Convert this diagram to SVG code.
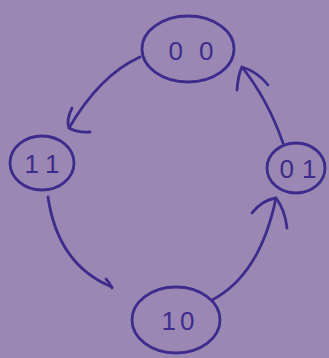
<svg xmlns="http://www.w3.org/2000/svg" width="329" height="358" viewBox="0 0 329 358">
<style>
.n{fill:none;stroke:#3d2c8c;stroke-width:2.8}
.c{fill:none;stroke:#3d2c8c;stroke-width:2.8;stroke-linecap:round;stroke-linejoin:round}
.t{font-family:"Liberation Sans",Arial,sans-serif;font-size:26px;fill:#3d2c8c;text-anchor:middle;letter-spacing:6px}
</style>
<rect width="329" height="358" fill="#9b87b3"/>
<g id="connectors">
<path class="c" d="M140,57 Q100,75 69,128"/>
<path class="c" d="M72,108 Q66,120 69,128 Q78,133 90,132"/>
<path class="c" d="M48,197 Q58,265 112,287"/>
<path class="c" d="M106,279 Q110,283 112,288"/>
<path class="c" d="M212,300 Q260,275 276,198"/>
<path class="c" d="M252,213 Q262,200 276,198 Q285,210 287,228"/>
<path class="c" d="M283,143 Q268,100 242,67"/>
<path class="c" d="M237,90 Q238,75 242,67 Q258,72 268,85"/>
</g>
<g id="n00"><ellipse class="n" cx="188" cy="49" rx="46" ry="33"/><text class="t" x="199" y="60" style="letter-spacing:16px">00</text></g>
<g id="n11"><ellipse class="n" cx="42" cy="163" rx="32" ry="27"/><text class="t" x="46" y="173" style="letter-spacing:8px">11</text></g>
<g id="n01"><ellipse class="n" cx="296" cy="168" rx="29" ry="25"/><text class="t" x="302" y="178" style="letter-spacing:8px">01</text></g>
<g id="n10"><ellipse class="n" cx="176" cy="320" rx="44" ry="33"/><text class="t" x="180" y="330" style="letter-spacing:4px">10</text></g>
</svg>
